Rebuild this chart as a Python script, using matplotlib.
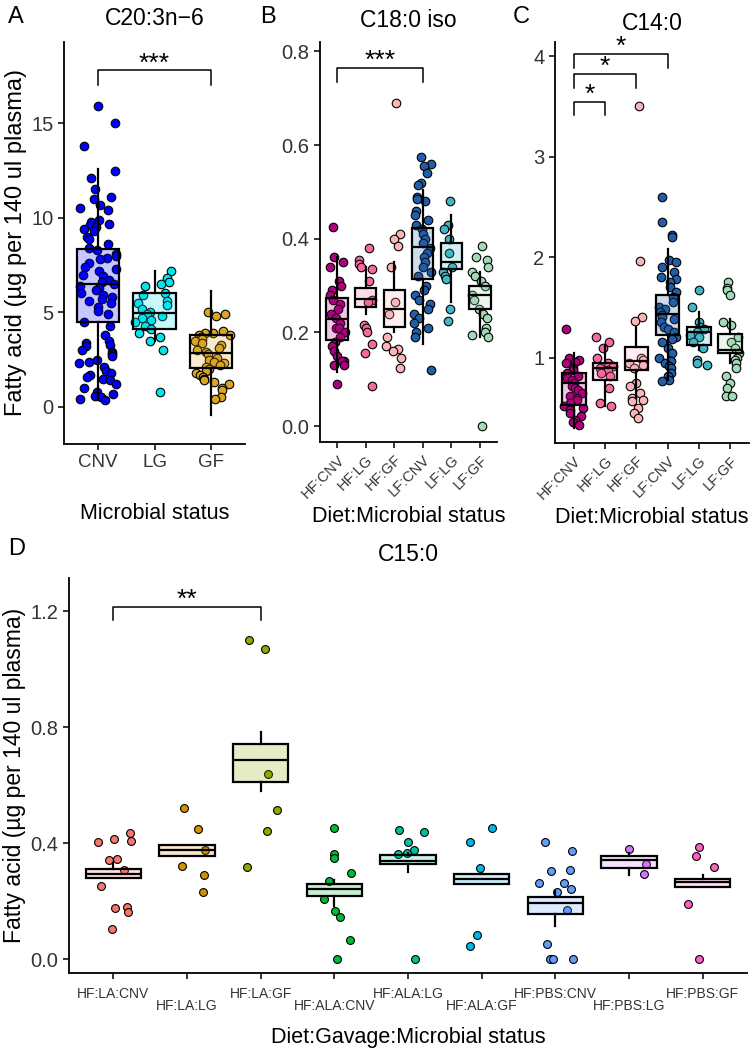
import numpy as np
import matplotlib
matplotlib.use("Agg")
import matplotlib.pyplot as plt
from matplotlib.colors import to_rgba

plt.rcParams['font.family'] = ['Liberation Sans', 'DejaVu Sans']

# ---- panel A : C20:3n-6 ----
a_labels = ["CNV", "LG", "GF"]
a_colors = ["#0000FF", "#00E5EE", "#DAA520"]
a_cnv = [15.9, 15.0, 13.8, 12.5, 12.1, 11.5, 11.1, 11.0, 10.7, 10.5, 10.4, 9.9, 9.8, 9.7,
         9.6, 9.5, 9.4, 9.3, 9.0, 8.9, 8.6, 8.4, 8.3, 8.1, 8.0, 7.9, 7.8, 7.6, 7.4, 7.3,
         7.2, 7.0, 6.9, 6.7, 6.6, 6.5, 6.4, 6.3, 6.2, 6.0, 5.9, 5.8, 5.7, 5.6, 5.5, 5.3,
         5.1, 4.9, 4.5, 4.3, 3.8, 3.5, 3.4, 3.3, 3.2, 3.0, 2.9, 2.8, 2.7, 2.5, 2.4, 2.3,
         2.1, 1.9, 1.8, 1.7, 1.6, 1.5, 1.4, 1.2, 1.0, 0.8, 0.7, 0.6, 0.5, 0.4, 0.35]
a_lg = [7.2, 6.8, 6.6, 6.5, 6.4, 6.0, 5.9, 5.6, 5.5, 5.4, 5.2, 5.0, 4.9, 4.8, 4.7, 4.6,
        4.5, 4.3, 4.1, 3.9, 3.7, 3.5, 3.0, 0.8]
a_gf = [5.0, 4.9, 4.8, 4.0, 3.9, 3.9, 3.8, 3.8, 3.7, 3.6, 3.5, 3.4, 3.3, 3.1, 3.0, 2.9,
        2.8, 2.6, 2.5, 2.4, 2.3, 2.2, 2.1, 2.0, 1.9, 1.8, 1.7, 1.6, 1.5, 1.4, 1.3, 1.2,
        1.0, 0.9, 0.5, 0.4]
# box stats: q1, median, q3, whisker low, whisker high
a_box = [(4.5, 6.5, 8.35, 0.35, 12.6), (4.1, 4.95, 6.0, 3.5, 7.2), (2.05, 2.85, 3.8, -0.45, 6.15)]

# ---- panels B and C : diet x microbial status ----
bc_labels = ["HF:CNV", "HF:LG", "HF:GF", "LF:CNV", "LF:LG", "LF:GF"]
bc_colors = ["#AE017E", "#F768A1", "#FBB4B9", "#225EA8", "#41B6C4", "#A1DAB4"]

b_hfcnv = [0.425, 0.36, 0.35, 0.34, 0.31, 0.30, 0.29, 0.28, 0.27, 0.26, 0.25, 0.24, 0.23,
           0.22, 0.21, 0.21, 0.20, 0.19, 0.18, 0.17, 0.16, 0.15, 0.14, 0.14, 0.13, 0.13, 0.09]
b_hflg = [0.38, 0.355, 0.345, 0.34, 0.335, 0.31, 0.27, 0.265, 0.215, 0.21, 0.20, 0.175,
          0.155, 0.085]
b_hfgf = [0.69, 0.41, 0.40, 0.385, 0.34, 0.265, 0.24, 0.19, 0.17, 0.165, 0.16, 0.145, 0.125]
b_lfcnv = [0.575, 0.56, 0.555, 0.54, 0.52, 0.515, 0.49, 0.485, 0.48, 0.46, 0.45, 0.44,
           0.43, 0.42, 0.41, 0.40, 0.39, 0.38, 0.37, 0.36, 0.35, 0.34, 0.33, 0.32, 0.30,
           0.29, 0.28, 0.27, 0.26, 0.25, 0.24, 0.23, 0.22, 0.21, 0.20, 0.19, 0.12]
b_lflg = [0.48, 0.43, 0.42, 0.40, 0.37, 0.34, 0.33, 0.32, 0.315, 0.25, 0.225]
b_lfgf = [0.385, 0.36, 0.355, 0.34, 0.33, 0.32, 0.31, 0.30, 0.28, 0.27, 0.25, 0.24, 0.23,
          0.21, 0.20, 0.195, 0.19, 0.0]
b_box = [(0.183, 0.228, 0.273, 0.115, 0.36), (0.255, 0.272, 0.295, 0.24, 0.34),
         (0.212, 0.25, 0.29, 0.20, 0.35), (0.313, 0.383, 0.423, 0.175, 0.505),
         (0.335, 0.35, 0.39, 0.265, 0.45), (0.25, 0.28, 0.30, 0.19, 0.33)]

c_hfcnv = [1.28, 1.0, 0.98, 0.96, 0.95, 0.9, 0.88, 0.85, 0.82, 0.8, 0.78, 0.75, 0.72, 0.7,
           0.68, 0.65, 0.62, 0.6, 0.58, 0.55, 0.52, 0.5, 0.48, 0.45, 0.42, 0.38, 0.36, 0.33]
c_hflg = [1.2, 1.15, 1.1, 1.0, 0.95, 0.92, 0.9, 0.88, 0.85, 0.82, 0.7, 0.55, 0.52]
c_hfgf = [3.5, 1.96, 1.4, 1.36, 1.0, 0.98, 0.95, 0.93, 0.9, 0.75, 0.72, 0.65, 0.6, 0.58,
          0.57, 0.5, 0.45, 0.4]
c_lfcnv = [2.6, 2.35, 2.22, 2.2, 1.97, 1.95, 1.9, 1.85, 1.8, 1.78, 1.75, 1.7, 1.65, 1.6,
           1.55, 1.5, 1.48, 1.45, 1.42, 1.4, 1.38, 1.35, 1.3, 1.28, 1.25, 1.2, 1.18, 1.15,
           1.1, 1.05, 1.0, 0.97, 0.95, 0.92, 0.9, 0.85, 0.82, 0.78, 0.77]
c_lflg = [1.67, 1.5, 1.35, 1.3, 1.28, 1.25, 1.22, 1.2, 1.15, 1.1, 0.98, 0.95, 0.93]
c_lfgf = [1.75, 1.69, 1.67, 1.62, 1.35, 1.32, 1.2, 1.15, 1.1, 1.05, 1.0, 0.98, 0.95, 0.9,
          0.82, 0.75, 0.7, 0.62, 0.62]
c_box = [(0.53, 0.75, 0.85, 0.30, 1.05), (0.78, 0.90, 0.95, 0.52, 1.13),
         (0.88, 0.97, 1.11, 0.60, 1.30), (1.22, 1.43, 1.62, 0.78, 2.08),
         (1.13, 1.25, 1.30, 1.08, 1.45), (1.05, 1.08, 1.23, 0.95, 1.38)]

# ---- panel D : C15:0 ----
d_labels = ["HF:LA:CNV", "HF:LA:LG", "HF:LA:GF", "HF:ALA:CNV", "HF:ALA:LG", "HF:ALA:GF",
            "HF:PBS:CNV", "HF:PBS:LG", "HF:PBS:GF"]
d_colors = ["#F8766D", "#D39200", "#93AA00", "#00BA38", "#00C19F", "#00B9E3",
            "#619CFF", "#DB72FB", "#FF61C3"]
d_points = [
    [0.434, 0.414, 0.406, 0.402, 0.345, 0.34, 0.308, 0.253, 0.18, 0.176, 0.164, 0.103],
    [0.52, 0.45, 0.375, 0.322, 0.289, 0.232],
    [1.099, 1.069, 0.639, 0.515, 0.44, 0.316],
    [0.452, 0.362, 0.349, 0.297, 0.268, 0.207, 0.167, 0.145, 0.067, 0.0],
    [0.446, 0.437, 0.402, 0.375, 0.366, 0.362, 0.0],
    [0.452, 0.402, 0.314, 0.082, 0.044],
    [0.402, 0.371, 0.308, 0.302, 0.264, 0.262, 0.241, 0.23, 0.168, 0.053, 0.0, 0.0, 0.0, 0.0],
    [0.38, 0.328, 0.293],
    [0.386, 0.354, 0.317, 0.19, 0.0],
]
d_box = [(0.279, 0.294, 0.31, 0.279, 0.33), (0.354, 0.377, 0.393, 0.354, 0.393),
         (0.609, 0.687, 0.743, 0.578, 0.783), (0.216, 0.241, 0.259, 0.184, 0.271),
         (0.328, 0.337, 0.36, 0.30, 0.366), (0.259, 0.276, 0.294, 0.259, 0.297),
         (0.155, 0.193, 0.213, 0.115, 0.236), (0.314, 0.343, 0.356, 0.29, 0.366),
         (0.25, 0.266, 0.277, 0.25, 0.291)]

W, H = 750, 1050
fig = plt.figure(figsize=(W / 100, H / 100), dpi=100)


def add_ax(left, top, right, bottom):
    return fig.add_axes([left / W, 1 - bottom / H, (right - left) / W, (bottom - top) / H])


def draw_groups(ax, colors, points, boxes, jit, size, seed):
    rng = np.random.default_rng(seed)
    for i, (col, pts) in enumerate(zip(colors, points)):
        xs = i + 1 + rng.uniform(-jit, jit, len(pts))
        ax.scatter(xs, pts, s=size, color=col, edgecolor="black", linewidth=0.8, zorder=2)
    stats = [dict(q1=b[0], med=b[1], q3=b[2], whislo=b[3], whishi=b[4], fliers=[])
             for b in boxes]
    bp = ax.bxp(stats, positions=range(1, len(boxes) + 1), widths=0.75, patch_artist=True,
                showcaps=False, showfliers=False, manage_ticks=False,
                boxprops=dict(linewidth=1.6, edgecolor="black"),
                medianprops=dict(color="black", linewidth=1.6),
                whiskerprops=dict(color="black", linewidth=1.6), zorder=3)
    for patch, col in zip(bp["boxes"], colors):
        patch.set_facecolor(to_rgba(col, 0.22))


def style(ax, xlim, ylim, yticks, ytlabels, xlabels, rot=0, tsize=13.5):
    ax.set_xlim(*xlim)
    ax.set_ylim(*ylim)
    ax.spines["top"].set_visible(False)
    ax.spines["right"].set_visible(False)
    ax.spines["left"].set_linewidth(1.3)
    ax.spines["bottom"].set_linewidth(1.3)
    ax.set_yticks(yticks)
    ax.set_yticklabels(ytlabels)
    ax.set_xticks(range(1, len(xlabels) + 1))
    if rot:
        ax.set_xticklabels(xlabels, rotation=rot, ha="right", rotation_mode="anchor")
    else:
        ax.set_xticklabels(xlabels)
    ax.tick_params(axis="y", labelsize=14.5, length=4, width=1.1, colors="black",
                   labelcolor="#333333")
    ax.tick_params(axis="x", labelsize=tsize, length=4, width=1.1, colors="black",
                   labelcolor="#333333")


def bracket(ax, x1, x2, y, tip, text, size=19):
    ax.plot([x1, x1, x2, x2], [tip, y, y, tip], color="black", linewidth=1.1, zorder=4)
    ax.annotate(text, xy=((x1 + x2) / 2, y), xytext=(0, 5), textcoords="offset points",
                ha="center", va="center", fontsize=size, zorder=4)


ylab = "Fatty acid (µg per 140 ul plasma)"

# A
axA = add_ax(64, 42, 245, 444)
draw_groups(axA, a_colors, [a_cnv, a_lg, a_gf], a_box, 0.34, 38, 1)
style(axA, (0.4, 3.6), (-1.96, 19.3), [0, 5, 10, 15], ["0", "5", "10", "15"], a_labels)
bracket(axA, 1, 3, 17.8, 17.0, "***")
axA.set_ylabel(ylab, fontsize=17, labelpad=3)
axA.set_xlabel("Microbial status", fontsize=15.5, labelpad=23)
axA.set_title("C20:3n\u22126", fontsize=16.5, pad=12)

# B
axB = add_ax(320, 42, 497, 442)
draw_groups(axB, bc_colors, [b_hfcnv, b_hflg, b_hfgf, b_lfcnv, b_lflg, b_lfgf], b_box,
            0.3, 38, 2)
style(axB, (0.4, 6.6), (-0.034, 0.82), [0, 0.2, 0.4, 0.6, 0.8],
      ["0.0", "0.2", "0.4", "0.6", "0.8"], bc_labels, rot=45, tsize=10.5)
bracket(axB, 1, 4, 0.765, 0.735, "***")
axB.set_xlabel("Diet:Microbial status", fontsize=15.5, labelpad=4)
axB.set_title("C18:0 iso", fontsize=16.5, pad=11)

# C
axC = add_ax(555, 42, 749, 443)
draw_groups(axC, bc_colors, [c_hfcnv, c_hflg, c_hfgf, c_lfcnv, c_lflg, c_lfgf], c_box,
            0.3, 38, 3)
style(axC, (0.4, 6.6), (0.15, 4.14), [1, 2, 3, 4], ["1", "2", "3", "4"], bc_labels,
      rot=45, tsize=10.5)
bracket(axC, 1, 2, 3.54, 3.41, "*")
bracket(axC, 1, 3, 3.82, 3.68, "*")
bracket(axC, 1, 4, 4.02, 3.88, "*")
axC.set_xlabel("Diet:Microbial status", fontsize=15.5, labelpad=4)
axC.set_title("C14:0", fontsize=16.5, pad=9)

# D
axD = add_ax(69, 578, 747, 973)
draw_groups(axD, d_colors, d_points, d_box, 0.25, 32, 4)
d_tick = [lab if i % 2 == 0 else "\n" + lab for i, lab in enumerate(d_labels)]
style(axD, (0.4, 9.6), (-0.048, 1.314), [0, 0.4, 0.8, 1.2], ["0.0", "0.4", "0.8", "1.2"],
      d_tick, tsize=10)
for t in axD.get_xticklabels():
    t.set_linespacing(0.85)
axD.tick_params(axis="x", pad=6)
bracket(axD, 1, 3, 1.214, 1.17, "**")
axD.set_ylabel(ylab, fontsize=16.5, labelpad=3)
axD.set_xlabel("Diet:Gavage:Microbial status", fontsize=15.5, labelpad=10)
axD.set_title("C15:0", fontsize=16.5, pad=12)

for lab, x, y in [("A", 8, 6), ("B", 260, 6), ("C", 513, 6), ("D", 8, 538)]:
    fig.text(x / W, 1 - y / H, lab, fontsize=17, va="top", ha="left")

fig.savefig("out.png", dpi=100)
